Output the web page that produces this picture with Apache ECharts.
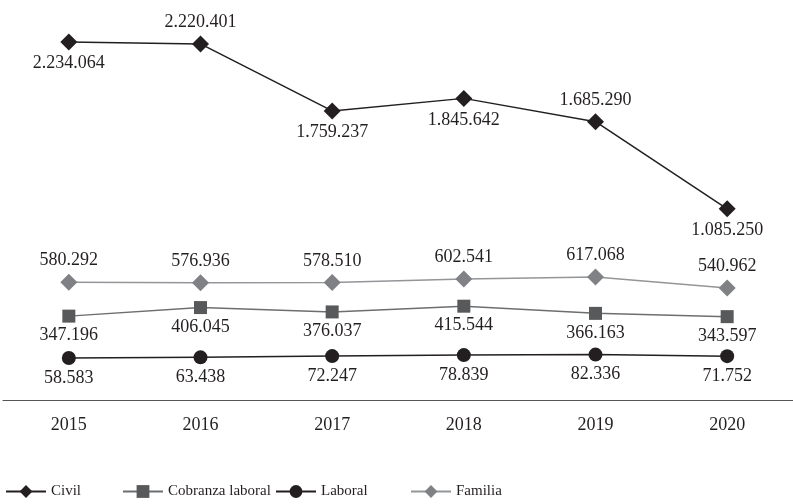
<!DOCTYPE html>
<html>
<head>
<meta charset="utf-8">
<script src="https://cdn.jsdelivr.net/npm/echarts@6/dist/echarts.min.js"></script>
<style>
  html, body { margin: 0; padding: 0; background: #ffffff; }
  #chart { width: 793px; height: 504px; }
</style>
</head>
<body>
<div id="chart"></div>
<script>
// Caseload by matter, 2015-2020
const years = ['2015', '2016', '2017', '2018', '2019', '2020'];
const civil = [2234064, 2220401, 1759237, 1845642, 1685290, 1085250];
const cobranza = [347196, 406045, 376037, 415544, 366163, 343597];
const laboral = [58583, 63438, 72247, 78839, 82336, 71752];
const familia = [580292, 576936, 578510, 602541, 617068, 540962];

const FONT = "'Liberation Serif', 'DejaVu Serif', serif";
const TEXT = '#231f20';

// thousands separated with dots
function fmt(v) {
  return String(v).replace(/\B(?=(\d{3})+(?!\d))/g, '.');
}

function labelStyle(pos) {
  return {
    show: true,
    position: pos,
    distance: 4,
    fontFamily: FONT,
    fontSize: 18,
    color: TEXT,
    formatter: p => fmt(p.value)
  };
}

const chart = echarts.init(document.getElementById('chart'), null, { renderer: 'canvas' });

function legendAt(left, name) {
  return {
    left: left,
    bottom: 5,
    padding: 0,
    itemWidth: 40,
    itemHeight: 16,
    itemGap: 6,
    data: [name],
    textStyle: { fontFamily: FONT, fontSize: 15, color: TEXT }
  };
}

chart.setOption({
  animation: false,
  backgroundColor: '#ffffff',
  textStyle: { fontFamily: FONT, color: TEXT },
  grid: { left: 3, right: -1, top: 20, bottom: 104, containLabel: false },
  xAxis: {
    type: 'category',
    data: years,
    boundaryGap: true,
    axisLine: { show: true, onZero: false, lineStyle: { color: '#555555', width: 1.2 } },
    axisTick: { show: false },
    axisLabel: { fontFamily: FONT, fontSize: 18, color: TEXT, margin: 16 }
  },
  yAxis: {
    type: 'value',
    min: -230000,
    max: 2385000,
    show: false,
    splitLine: { show: false }
  },
  legend: [
    legendAt(5, 'Civil'),
    legendAt(122, 'Cobranza laboral'),
    legendAt(275, 'Laboral'),
    legendAt(410, 'Familia')
  ],
  series: [
    {
      name: 'Civil',
      type: 'line',
      data: civil.map((v, i) => ({
        value: v,
        label: labelStyle(i === 1 || i === 4 ? 'top' : 'bottom')
      })),
      symbol: 'diamond',
      symbolSize: 17,
      itemStyle: { color: '#231f20' },
      lineStyle: { color: '#231f20', width: 1.5 },
      label: labelStyle('bottom'),
      z: 4
    },
    {
      name: 'Cobranza laboral',
      type: 'line',
      data: cobranza,
      symbol: 'rect',
      symbolSize: 13,
      itemStyle: { color: '#58595b' },
      lineStyle: { color: '#6d6e70', width: 1.5 },
      label: labelStyle('bottom'),
      z: 3
    },
    {
      name: 'Laboral',
      type: 'line',
      data: laboral,
      symbol: 'circle',
      symbolSize: 14,
      itemStyle: { color: '#231f20' },
      lineStyle: { color: '#231f20', width: 1.5 },
      label: labelStyle('bottom'),
      z: 3
    },
    {
      name: 'Familia',
      type: 'line',
      data: familia,
      symbol: 'diamond',
      symbolSize: 17,
      itemStyle: { color: '#808184' },
      lineStyle: { color: '#939598', width: 1.5 },
      label: labelStyle('top'),
      z: 2
    }
  ]
});
</script>
</body>
</html>
